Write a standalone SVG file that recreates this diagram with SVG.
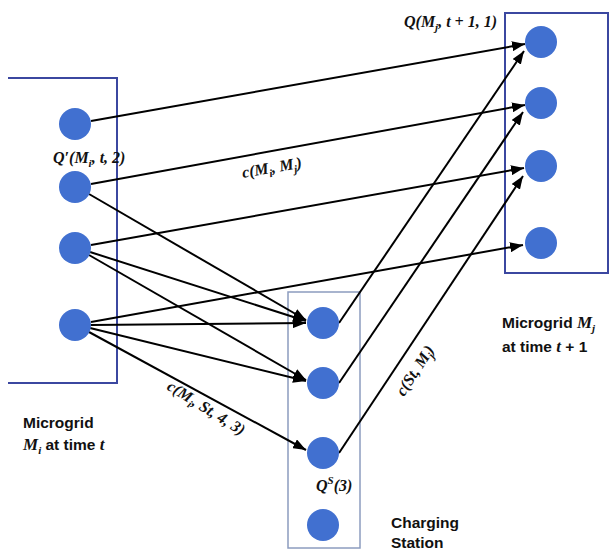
<svg xmlns="http://www.w3.org/2000/svg" width="609" height="556" viewBox="0 0 609 556">
<style>
.box{fill:none;stroke:#3B47A0;stroke-width:2}
.sbox{fill:none;stroke:#8C9CBF;stroke-width:1.5}
.node{fill:#4170D0}
.edge{stroke:#000;stroke-width:2;fill:none}
.m{font-family:"Liberation Serif",serif;font-style:italic;font-weight:bold;font-size:16px;fill:#111}
.sub{font-size:11px}
.t{font-family:"Liberation Sans",Arial,sans-serif;font-weight:bold;font-size:15.5px;fill:#111}
.ti{font-family:"Liberation Serif",serif;font-style:italic;font-weight:bold;font-size:17px}
.tsub{font-family:"Liberation Serif",serif;font-style:italic;font-weight:bold;font-size:11px}
</style>
<defs>
<marker id="ah" markerUnits="userSpaceOnUse" markerWidth="13" markerHeight="10" refX="13" refY="5" orient="auto">
<path d="M0,0 L13,5 L0,10 z" fill="#000"/>
</marker>
</defs>
<rect width="609" height="556" fill="#fff"/>
<g id="box-left"><path class="box" d="M8,78 H117 V383 H8"/></g>
<g id="box-right"><rect class="box" x="505" y="13" width="103" height="260"/></g>
<g id="box-station"><rect class="sbox" x="288" y="292" width="72" height="256"/></g>
<g id="connectors">
<line class="edge" marker-end="url(#ah)" x1="91" y1="121" x2="525" y2="44"/>
<line class="edge" marker-end="url(#ah)" x1="91" y1="184" x2="525" y2="105"/>
<line class="edge" marker-end="url(#ah)" x1="91" y1="245" x2="524" y2="168"/>
<line class="edge" marker-end="url(#ah)" x1="91" y1="322" x2="523" y2="245"/>
<line class="edge" marker-end="url(#ah)" x1="89" y1="194" x2="306" y2="320"/>
<line class="edge" marker-end="url(#ah)" x1="90" y1="252" x2="306" y2="321"/>
<line class="edge" marker-end="url(#ah)" x1="91" y1="325" x2="306" y2="323"/>
<line class="edge" marker-end="url(#ah)" x1="89" y1="255" x2="306" y2="380"/>
<line class="edge" marker-end="url(#ah)" x1="90" y1="328" x2="306" y2="381"/>
<line class="edge" marker-end="url(#ah)" x1="89" y1="332" x2="306" y2="450"/>
<line class="edge" marker-end="url(#ah)" x1="339" y1="323" x2="524" y2="51"/>
<line class="edge" marker-end="url(#ah)" x1="339" y1="383" x2="523" y2="112"/>
<line class="edge" marker-end="url(#ah)" x1="339" y1="453" x2="523" y2="176"/>
</g>
<g id="L1"><circle class="node" cx="75" cy="124" r="16"/></g>
<g id="L2"><circle class="node" cx="75" cy="187" r="16"/></g>
<g id="L3"><circle class="node" cx="75" cy="248" r="16"/></g>
<g id="L4"><circle class="node" cx="75" cy="325" r="16"/></g>
<g id="R1"><circle class="node" cx="541" cy="42" r="16"/></g>
<g id="R2"><circle class="node" cx="541" cy="103" r="16"/></g>
<g id="R3"><circle class="node" cx="541" cy="166" r="16"/></g>
<g id="R4"><circle class="node" cx="541" cy="243" r="16"/></g>
<g id="S1"><circle class="node" cx="323" cy="323" r="16"/></g>
<g id="S2"><circle class="node" cx="323" cy="383" r="16"/></g>
<g id="S3"><circle class="node" cx="323" cy="453" r="16"/></g>
<g id="S4"><circle class="node" cx="323" cy="525" r="16"/></g>
<g id="labels">
<text class="m" x="404" y="27">Q(M<tspan class="sub" dy="4">j</tspan><tspan dy="-4">, t + 1, 1)</tspan></text>
<text class="m" x="53" y="163">Q′(M<tspan class="sub" dy="4">i</tspan><tspan dy="-4">, t, 2)</tspan></text>
<text class="m" transform="translate(243,178) rotate(-10)">c(M<tspan class="sub" dy="4">i</tspan><tspan dy="-4">, M</tspan><tspan class="sub" dy="4">j</tspan><tspan dy="-4">)</tspan></text>
<text class="m" transform="translate(166,389) rotate(32)">c(M<tspan class="sub" dy="4">i</tspan><tspan dy="-4">, St, 4, 3)</tspan></text>
<text class="m" x="316" y="491">Q<tspan class="sub" dy="-7">S</tspan><tspan dy="7">(3)</tspan></text>
<text class="m" transform="translate(404,397) rotate(-57)">c(St, M<tspan class="sub" dy="4">j</tspan><tspan dy="-4">)</tspan></text>
<text class="t" x="502" y="328">Microgrid <tspan class="ti">M</tspan><tspan class="tsub" dy="4">j</tspan></text>
<text class="t" x="502" y="352">at time <tspan class="ti">t</tspan> + 1</text>
<text class="t" x="23" y="428">Microgrid</text>
<text class="t" x="23" y="450"><tspan class="ti">M</tspan><tspan class="tsub" dy="4">i</tspan><tspan dy="-4"> at time </tspan><tspan class="ti">t</tspan></text>
<text class="t" x="391" y="528">Charging</text>
<text class="t" x="391" y="548">Station</text>
</g>
</svg>
